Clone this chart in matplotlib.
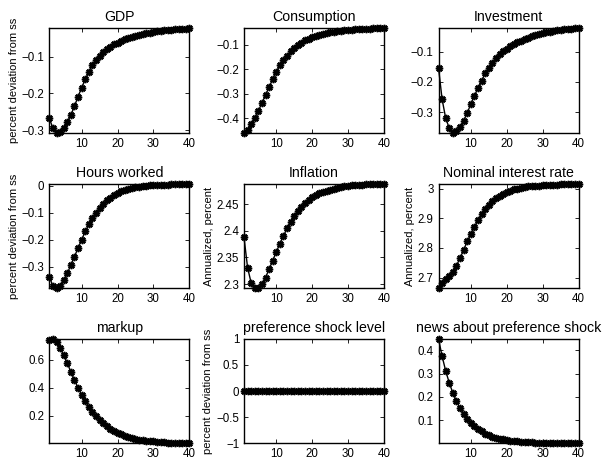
import matplotlib
matplotlib.use("Agg")
import matplotlib.pyplot as plt

plt.rcParams['font.family'] = ['Liberation Sans', 'DejaVu Sans']

# quarters after the shock
t = list(range(1, 41))

# impulse responses
gdp = [-0.268, -0.295, -0.307, -0.305, -0.294, -0.277, -0.259, -0.235, -0.209, -0.185,
       -0.162, -0.141, -0.123, -0.110, -0.098, -0.088, -0.080, -0.073, -0.067, -0.062,
       -0.057, -0.053, -0.049, -0.046, -0.043, -0.041, -0.039, -0.037, -0.035, -0.033,
       -0.031, -0.030, -0.029, -0.028, -0.027, -0.026, -0.025, -0.024, -0.024, -0.023]
cons = [-0.460, -0.447, -0.425, -0.400, -0.370, -0.340, -0.305, -0.275, -0.240, -0.210,
        -0.185, -0.163, -0.145, -0.128, -0.114, -0.102, -0.092, -0.083, -0.076, -0.069,
        -0.064, -0.059, -0.055, -0.052, -0.049, -0.047, -0.045, -0.043, -0.042, -0.040,
        -0.039, -0.038, -0.037, -0.036, -0.036, -0.035, -0.034, -0.034, -0.033, -0.033]
inv = [-0.153, -0.257, -0.320, -0.353, -0.368, -0.364, -0.350, -0.328, -0.303, -0.273,
       -0.246, -0.220, -0.196, -0.172, -0.153, -0.137, -0.122, -0.109, -0.098, -0.090,
       -0.082, -0.075, -0.069, -0.063, -0.058, -0.053, -0.049, -0.045, -0.041, -0.037,
       -0.035, -0.033, -0.031, -0.029, -0.028, -0.026, -0.025, -0.024, -0.023, -0.022]
hours = [-0.338, -0.371, -0.380, -0.371, -0.350, -0.325, -0.293, -0.263, -0.230, -0.200,
         -0.169, -0.143, -0.119, -0.099, -0.082, -0.067, -0.054, -0.043, -0.034, -0.026,
         -0.020, -0.015, -0.011, -0.008, -0.005, -0.003, -0.001, 0.000, 0.002, 0.003,
         0.004, 0.004, 0.005, 0.005, 0.006, 0.006, 0.007, 0.007, 0.008, 0.008]
infl = [2.388, 2.331, 2.302, 2.292, 2.292, 2.300, 2.312, 2.328, 2.344, 2.360,
        2.376, 2.390, 2.405, 2.417, 2.428, 2.437, 2.445, 2.452, 2.458, 2.463,
        2.467, 2.470, 2.473, 2.475, 2.477, 2.479, 2.480, 2.482, 2.483, 2.484,
        2.485, 2.485, 2.486, 2.486, 2.487, 2.487, 2.487, 2.488, 2.488, 2.488]
rate = [2.664, 2.683, 2.694, 2.706, 2.720, 2.740, 2.766, 2.793, 2.822, 2.847,
        2.872, 2.893, 2.913, 2.930, 2.946, 2.958, 2.968, 2.976, 2.983, 2.989,
        2.993, 2.997, 3.000, 3.003, 3.005, 3.007, 3.008, 3.009, 3.010, 3.011,
        3.012, 3.012, 3.013, 3.013, 3.014, 3.014, 3.015, 3.015, 3.016, 3.016]
markup = [0.743, 0.750, 0.726, 0.682, 0.634, 0.576, 0.513, 0.455, 0.400, 0.350,
          0.306, 0.265, 0.229, 0.197, 0.169, 0.145, 0.124, 0.106, 0.090, 0.077,
          0.066, 0.056, 0.048, 0.041, 0.035, 0.030, 0.025, 0.022, 0.018, 0.016,
          0.013, 0.011, 0.010, 0.008, 0.007, 0.006, 0.005, 0.004, 0.004, 0.003]
pref = [0.0] * 40
news = [0.450, 0.375, 0.312, 0.260, 0.217, 0.181, 0.151, 0.126, 0.105, 0.087,
        0.073, 0.061, 0.051, 0.042, 0.035, 0.029, 0.024, 0.020, 0.017, 0.014,
        0.012, 0.010, 0.008, 0.007, 0.006, 0.005, 0.004, 0.003, 0.003, 0.002,
        0.002, 0.002, 0.001, 0.001, 0.001, 0.001, 0.001, 0.000, 0.000, 0.000]

titles = ['GDP', 'Consumption', 'Investment',
          'Hours worked', 'Inflation', 'Nominal interest rate',
          'markup', 'preference shock level', 'news about preference shock']
series = [gdp, cons, inv, hours, infl, rate, markup, pref, news]
ylabels = ['percent deviation from ss', '', '',
           'percent deviation from ss', 'Annualized, percent', 'Annualized, percent',
           '', 'percent deviation from ss', '']
yticks = [[-0.3, -0.2, -0.1], [-0.4, -0.3, -0.2, -0.1], [-0.3, -0.2, -0.1],
          [-0.3, -0.2, -0.1, 0], [2.3, 2.35, 2.4, 2.45], [2.7, 2.8, 2.9, 3],
          [0.2, 0.4, 0.6], [-1, -0.5, 0, 0.5, 1], [0.1, 0.2, 0.3, 0.4]]
yticklabels = [['\u22120.3', '\u22120.2', '\u22120.1'],
               ['\u22120.4', '\u22120.3', '\u22120.2', '\u22120.1'],
               ['\u22120.3', '\u22120.2', '\u22120.1'],
               ['\u22120.3', '\u22120.2', '\u22120.1', '0'],
               ['2.3', '2.35', '2.4', '2.45'],
               ['2.7', '2.8', '2.9', '3'],
               ['0.2', '0.4', '0.6'],
               ['\u22121', '\u22120.5', '0', '0.5', '1'],
               ['0.1', '0.2', '0.3', '0.4']]

fig = plt.figure(figsize=(6.03, 4.59), dpi=100)

lefts = [0.0818, 0.4046, 0.7272]
bottoms = [0.7109, 0.3719, 0.0342]
w, h = 0.2322, 0.2277

for i in range(9):
    r, c = divmod(i, 3)
    ax = fig.add_axes([lefts[c], bottoms[r], w, h])
    y = series[i]
    # matlab style asterisk marker
    ax.plot(t, y, color='black', lw=1.0, marker=(8, 2, 0), ms=5.3, mew=1.2, clip_on=False)
    ax.set_xlim(1, 40)
    if titles[i] == 'preference shock level':
        ax.set_ylim(-1, 1)
    else:
        ax.set_ylim(min(y), max(y))
    ax.set_xticks([10, 20, 30, 40])
    ax.set_yticks(yticks[i])
    ax.set_yticklabels(yticklabels[i])
    ax.tick_params(direction='in', top=True, right=True, length=3, width=0.6,
                   labelsize=8.3, pad=3.5)
    for s in ax.spines.values():
        s.set_linewidth(1.0)
    ax.set_title(titles[i], fontsize=10.2, pad=5)
    if ylabels[i]:
        ax.set_ylabel(ylabels[i], fontsize=8, labelpad=2)

fig.savefig('out.png', dpi=100)
